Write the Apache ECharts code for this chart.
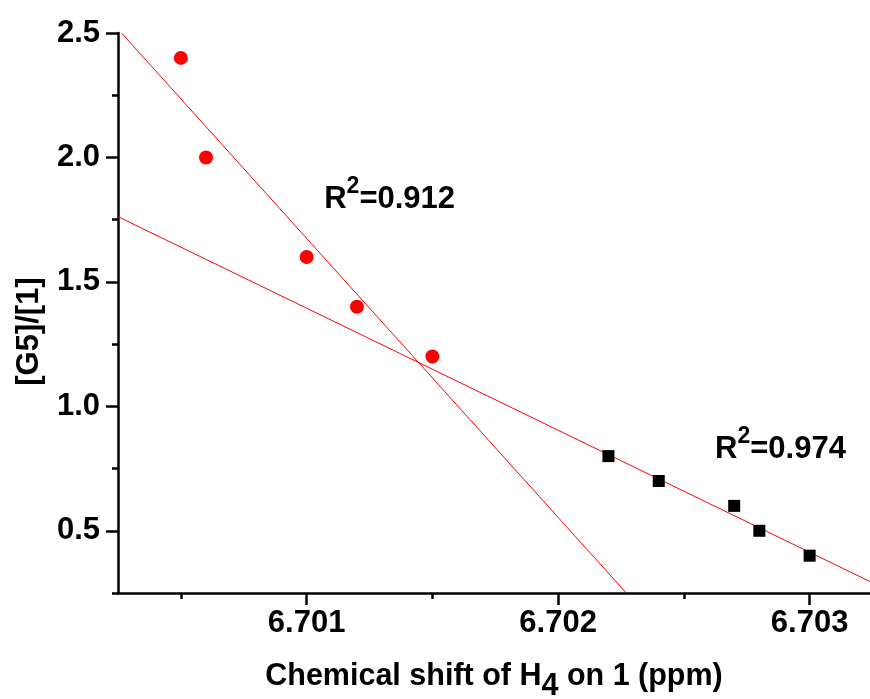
<!DOCTYPE html>
<html><head><meta charset="utf-8">
<script src="https://cdn.jsdelivr.net/npm/echarts@6/dist/echarts.min.js"></script>
<style>html,body{margin:0;padding:0;background:#fff;overflow:hidden}#c{width:870px;height:699px}</style>
</head><body><div id="c"></div>
<script>
// Data
const redX = [6.7005, 6.7006, 6.7010, 6.7012, 6.7015];
const redY = [2.4, 2.0, 1.6, 1.4, 1.2];
const blackX = [6.7022, 6.7024, 6.7027, 6.7028, 6.7030];
const blackY = [0.8, 0.7, 0.6, 0.5, 0.4];
const redFitX = [6.700264, 6.702271];
const redFitY = [2.5, 0.25];
const blackFitX = [6.70025, 6.70324];
const blackFitY = [1.762, 0.296];
const xMajorTicks = [6.701, 6.702, 6.703];
const xMinorTicks = [6.7005, 6.7015, 6.7025];
const yMajorTicks = [0.5, 1.0, 1.5, 2.0, 2.5];
const yMinorTicks = [0.25, 0.75, 1.25, 1.75, 2.25];
const r2Labels = ['0.912', '0.974'];
const r2AnchorX = [6.701070, 6.702624];
const r2AnchorY = [1.850, 0.846];
const xTitle = ['Chemical shift of H', '4', ' on 1 (ppm)'];
const yTitle = '[G5]/[1]';

const FONT = '"Liberation Sans", Arial, Helvetica, sans-serif';
const X_MIN = 6.70025, X_MAX = 6.70324, Y_MIN = 0.25, Y_MAX = 2.5;
const zip = (a, b) => a.map((v, i) => [v, b[i]]);

const chart = echarts.init(document.getElementById('c'), null, {renderer: 'canvas', width: 870, height: 699});
const axisLineStyle = {color: '#000', width: 2.5};
const baseX = {type: 'value', min: X_MIN, max: X_MAX, position: 'bottom', splitLine: {show: false}};
const baseY = {type: 'value', min: Y_MIN, max: Y_MAX, position: 'left', splitLine: {show: false}};

chart.setOption({
  animation: false,
  backgroundColor: '#fff',
  grid: {left: 118, top: 33, width: 752, height: 560, containLabel: false, outerBoundsMode: 'none'},
  xAxis: [
    Object.assign({}, baseX, {
      axisLine: {show: true, onZero: false, lineStyle: axisLineStyle},
      axisTick: {show: true, inside: false, length: 12, customValues: xMajorTicks, lineStyle: {color: '#000', width: 2.5}},
      axisLabel: {show: true, customValues: xMajorTicks, margin: 15, formatter: v => v.toFixed(3),
        color: '#000', fontFamily: FONT, fontWeight: 'bold', fontSize: 31},
      name: '{t|' + xTitle[0] + '}{sub|' + xTitle[1] + '}{t|' + xTitle[2] + '}',
      nameLocation: 'middle', nameGap: 68,
      nameTextStyle: {color: '#000', fontFamily: FONT, fontWeight: 'bold', fontSize: 30.5,
        rich: {
          t: {color: '#000', fontFamily: FONT, fontWeight: 'bold', fontSize: 30.5, lineHeight: 31, verticalAlign: 'top'},
          sub: {color: '#000', fontFamily: FONT, fontWeight: 'bold', fontSize: 30.5, lineHeight: 31, padding: [10, 0, 0, 0], verticalAlign: 'top'}
        }}
    }),
    Object.assign({}, baseX, {
      axisLine: {show: false},
      axisTick: {show: true, inside: false, length: 6, customValues: xMinorTicks, lineStyle: {color: '#000', width: 2.5}},
      axisLabel: {show: false}
    })
  ],
  yAxis: [
    Object.assign({}, baseY, {
      axisLine: {show: true, onZero: false, lineStyle: axisLineStyle},
      axisTick: {show: true, inside: false, length: 12, customValues: yMajorTicks, lineStyle: {color: '#000', width: 2.5}},
      axisLabel: {show: true, customValues: yMajorTicks, margin: 18, formatter: v => v.toFixed(1),
        color: '#000', fontFamily: FONT, fontWeight: 'bold', fontSize: 31}
    }),
    Object.assign({}, baseY, {
      axisLine: {show: false},
      axisTick: {show: true, inside: false, length: 6, customValues: yMinorTicks, lineStyle: {color: '#000', width: 2.5}},
      axisLabel: {show: false}
    })
  ],
  graphic: [{
    type: 'text', x: 29, y: 331.5, rotation: Math.PI / 2,
    style: {text: yTitle, fill: '#000', font: 'bold 31px ' + FONT, align: 'center', verticalAlign: 'middle'}
  }],
  series: [
    {type: 'line', name: 'fit1', data: zip(redFitX, redFitY), symbol: 'none', silent: true,
      lineStyle: {color: '#ff0000', width: 1, opacity: 1}, z: 2},
    {type: 'line', name: 'fit2', data: zip(blackFitX, blackFitY), symbol: 'none', silent: true,
      lineStyle: {color: '#ff0000', width: 1, opacity: 1}, z: 2},
    {type: 'scatter', name: 'red', data: zip(redX, redY), symbol: 'circle', symbolSize: 14,
      itemStyle: {color: '#ff0000', opacity: 1}, z: 3},
    {type: 'scatter', name: 'black', data: zip(blackX, blackY), symbol: 'rect', symbolSize: 12,
      itemStyle: {color: '#000000', opacity: 1}, z: 3},
    {type: 'scatter', name: 'r2', data: zip(r2AnchorX, r2AnchorY), symbolSize: 0, silent: true, z: 4,
      itemStyle: {opacity: 1},
      label: {show: true, position: 'right', distance: 0, color: '#000', opacity: 1,
        formatter: p => '{r|R}{s|2}{r|=' + r2Labels[p.dataIndex] + '}',
        rich: {
          r: {color: '#000', fontFamily: FONT, fontWeight: 'bold', fontSize: 31, lineHeight: 40, verticalAlign: 'bottom'},
          s: {color: '#000', fontFamily: FONT, fontWeight: 'bold', fontSize: 23, lineHeight: 23, verticalAlign: 'top'}
        }}}
  ]
});
</script></body></html>
